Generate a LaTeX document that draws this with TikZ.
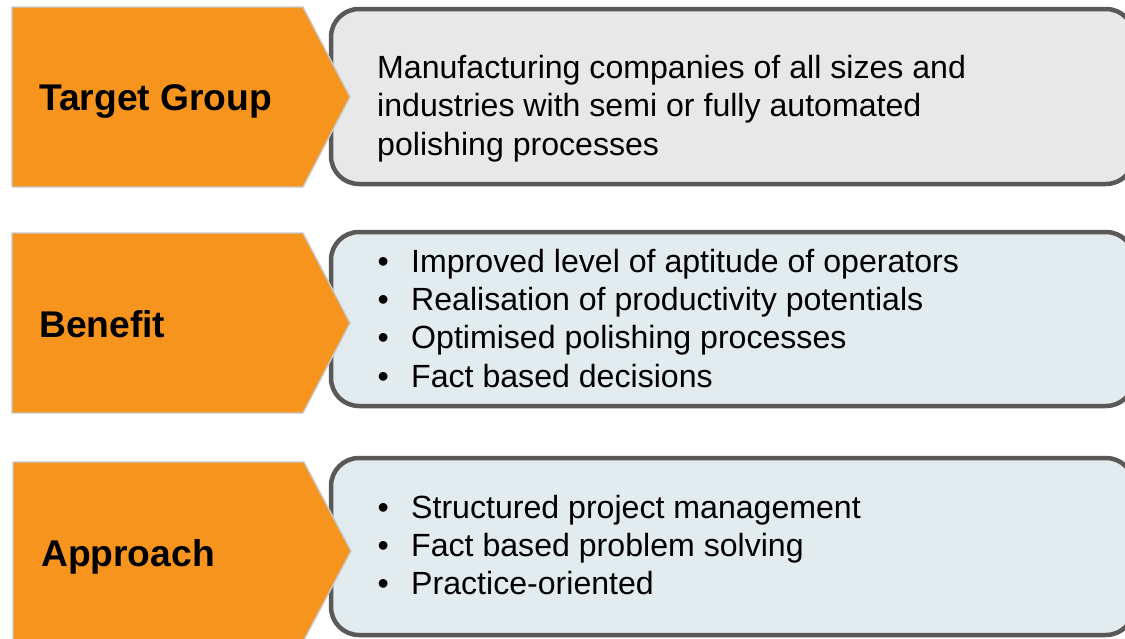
\documentclass[tikz,border=0pt]{standalone}
\usepackage{fontspec}
\setmainfont{Liberation Sans}
\usepackage{tikz}
\definecolor{tabOrange}{HTML}{F7941E}
\definecolor{tabEdge}{HTML}{C6CBCE}
\definecolor{cardEdge}{HTML}{595959}
\definecolor{cardGrey}{HTML}{E8E8E8}
\definecolor{cardBlue}{HTML}{E2EBED}
\tikzset{
	tab/.style={fill=tabOrange, draw=tabEdge, line width=1.4pt, line join=miter},
	card/.style={draw=cardEdge, fill=#1, line width=4.5pt, rounded corners=28pt},
	headline/.style={anchor=base west, inner sep=0pt,
			font=\fontsize{37.2}{44}\selectfont\bfseries},
	entry/.style={anchor=base west, inner sep=0pt,
			font=\fontsize{32.1}{38}\selectfont}
}

\begin{document}
\begin{tikzpicture}[x=1pt,y=-1pt]
	\useasboundingbox (0,0) rectangle (1125,638);
	% cards on the right
	\draw[card=cardGrey] (331,9) rectangle (1134,184);
	\draw[card=cardBlue] (331,232) rectangle (1134,406);
	\draw[card=cardBlue] (331,458) rectangle (1134,635);
	% orange tabs, drawn over the cards
	\draw[tab] (12,7) -- (303,7) -- (350,97) -- (303,187) -- (12,187) -- cycle;
	\draw[tab] (12,233) -- (303,233) -- (350,323) -- (303,413) -- (12,413) -- cycle;
	\draw[tab] (13,462) -- (304,462) -- (351,551) -- (304,640) -- (13,640) -- cycle;
	\node[headline] (target) at (39,110) {Target Group};
	\node[headline] (benefit) at (39,337) {Benefit};
	\node[headline] (approach) at (41,566) {Approach};
	% first card
	\foreach \txt [count=\i] in {Manufacturing companies of all sizes and,
			industries with semi or fully automated, polishing processes}
	\node[entry] (group\i) at (377,{78+38.5*(\i-1)}) {\txt} ;
	% bullet lists
	\foreach \txt [count=\i] in {Improved level of aptitude of operators,
			Realisation of productivity potentials, Optimised polishing processes,
			Fact based decisions}
	{
		\node[entry] (gaindot\i) at (377.5,{272+38.4*(\i-1)}) {•} ;
		\node[entry] (gain\i) at (411,{272+38.4*(\i-1)}) {\txt} ;
	}
	\foreach \txt [count=\i] in {Structured project management,
			Fact based problem solving, Practice-oriented}
	{
		\node[entry] (waydot\i) at (377.5,{518+38.4*(\i-1)}) {•} ;
		\node[entry] (way\i) at (411,{518+38.4*(\i-1)}) {\txt} ;
	}
\end{tikzpicture}
\end{document}
